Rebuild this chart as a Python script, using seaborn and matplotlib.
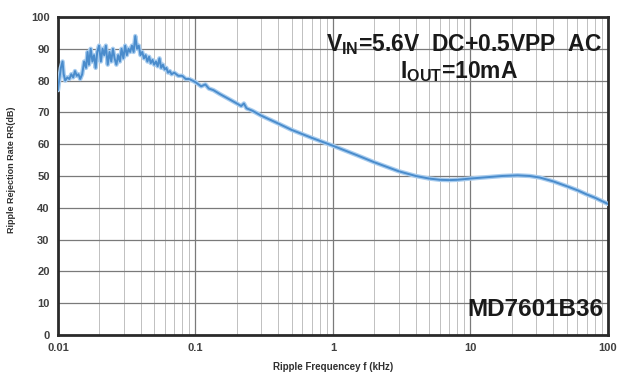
import numpy as np
import pandas as pd
import matplotlib
matplotlib.use("Agg")
import matplotlib.pyplot as plt
from matplotlib.ticker import LogLocator, FixedLocator, FixedFormatter
import seaborn as sns

# Ripple rejection curve: frequency (kHz) vs rejection (dB)
freq_khz = [
    0.0100, 0.0102, 0.0105, 0.0108, 0.0110, 0.0113, 0.0117, 0.0121, 0.0125, 0.0129,
    0.0133, 0.0137, 0.0141, 0.0145, 0.0150, 0.0155, 0.0160, 0.0164, 0.0168, 0.0173,
    0.0178, 0.0183, 0.0188, 0.0193, 0.0199, 0.0205, 0.0211, 0.0217, 0.0223, 0.0230,
    0.0237, 0.0244, 0.0251, 0.0258, 0.0266, 0.0274, 0.0282, 0.0290, 0.0299, 0.0308,
    0.0317, 0.0326, 0.0335, 0.0345, 0.0355, 0.0365, 0.0376, 0.0387, 0.0398, 0.0410,
    0.0422, 0.0434, 0.0447, 0.0460, 0.0473, 0.0487, 0.0501, 0.0516, 0.0531, 0.0547,
    0.0563, 0.0580, 0.0597, 0.0614, 0.0632, 0.0651, 0.0670, 0.0700, 0.0750, 0.0800,
    0.0850, 0.0900, 0.0950, 0.100, 0.110, 0.118, 0.125, 0.135, 0.150, 0.170,
    0.200, 0.215, 0.225, 0.235, 0.260, 0.300, 0.400, 0.500, 0.700, 1.0,
    1.5, 2.0, 3.0, 4.0, 5.0, 6.0, 7.0, 8.0, 10.0, 13.0,
    17.0, 22.0, 27.0, 32.0, 40.0, 50.0, 60.0, 70.0, 80.0, 100.0,
]
rr_db = [
    77, 80, 84, 86, 82, 80, 81, 80.5, 82, 81,
    83, 81.5, 82, 80.5, 82, 86, 84, 89, 85, 90,
    86, 88, 84, 89, 91, 86, 90, 88, 91, 85,
    89, 86, 90, 87, 85, 88, 86, 90, 87, 91,
    88, 90, 89, 91, 89, 94, 90, 91, 88, 89,
    87, 88, 86, 87.5, 85.5, 86.5, 85, 86, 84.5, 87,
    84, 85, 83.5, 84, 82.5, 83, 82, 82.5, 81.5, 81.5,
    80.5, 80.5, 80, 79.5, 78.2, 78.8, 77.5, 77, 75.8, 74.5,
    72.8, 72, 72.8, 71.3, 70.5, 69, 66.5, 64.5, 62, 59.5,
    56.5, 54.3, 51.5, 50, 49.2, 48.8, 48.7, 48.8, 49.2, 49.6,
    50, 50.2, 50, 49.5, 48.3, 46.8, 45.5, 44.2, 43.2, 41.2,
]

x_ticks = [0.01, 0.1, 1, 10, 100]
x_tick_labels = ["0.01", "0.1", "1", "10", "100"]
y_ticks = list(range(0, 101, 10))

sns.set_style("white")
plt.rcParams["font.family"] = ["Liberation Sans", "DejaVu Sans"]
plt.rcParams["mathtext.fontset"] = "custom"
plt.rcParams["mathtext.rm"] = "Liberation Sans:bold"
plt.rcParams["mathtext.it"] = "Liberation Sans:bold"
plt.rcParams["mathtext.bf"] = "Liberation Sans:bold"

df = pd.DataFrame({"freq": freq_khz, "rr": rr_db})

fig = plt.figure(figsize=(6.22, 3.75), dpi=100)
ax = fig.add_axes([0.0932, 0.1067, 0.8843, 0.848])

# light halo under the main trace
sns.lineplot(data=df, x="freq", y="rr", ax=ax, color="#a9cdef", linewidth=3.2,
             estimator=None, sort=True, legend=False, zorder=3)
sns.lineplot(data=df, x="freq", y="rr", ax=ax, color="#4a8ccc", linewidth=1.4,
             estimator=None, sort=True, legend=False, zorder=4)

ax.set_xscale("log")
ax.set_xlim(0.01, 100)
ax.set_ylim(0, 100)

ax.xaxis.set_major_locator(FixedLocator(x_ticks))
ax.xaxis.set_major_formatter(FixedFormatter(x_tick_labels))
ax.xaxis.set_minor_locator(LogLocator(base=10, subs=np.arange(2, 10)))
ax.yaxis.set_major_locator(FixedLocator(y_ticks))

ax.grid(which="major", axis="both", color="#7a7a7a", linewidth=0.9, zorder=1)
ax.grid(which="minor", axis="x", color="#b5b5b5", linewidth=0.6, zorder=1)
ax.set_axisbelow(True)

for side in ax.spines.values():
    side.set_visible(True)
    side.set_color("#2a2a2a")
    side.set_linewidth(2.0)

ax.tick_params(axis="both", which="both", length=0)
ax.tick_params(axis="both", labelsize=8, labelcolor="#404040", pad=6)
for lbl in ax.get_xticklabels() + ax.get_yticklabels():
    lbl.set_fontweight("bold")

ax.set_xlabel("Ripple Frequencey f (kHz)", fontsize=7, fontweight="bold",
              color="#303030")
ax.set_ylabel("Ripple Rejection Rate RR(dB)", fontsize=6.5, fontweight="bold",
              color="#303030")
ax.xaxis.set_label_coords(0.5, -0.085)
ax.yaxis.set_label_coords(-0.077, 0.52)

ax.text(0.989, 0.912, r"V$_{\mathrm{IN}}$=5.6V  DC+0.5VPP  AC",
        transform=ax.transAxes, ha="right", va="center", fontsize=16.5,
        fontweight="bold", color="#1a1a1a", zorder=6)
ax.text(0.729, 0.827, r"I$_{\mathrm{OUT}}$=10mA",
        transform=ax.transAxes, ha="center", va="center", fontsize=16.5,
        fontweight="bold", color="#1a1a1a", zorder=6)
ax.text(0.992, 0.045, "MD7601B36", transform=ax.transAxes, ha="right",
        va="bottom", fontsize=17.5, fontweight="bold", color="#1a1a1a", zorder=6)

fig.savefig("out.png", dpi=100, facecolor="white")
